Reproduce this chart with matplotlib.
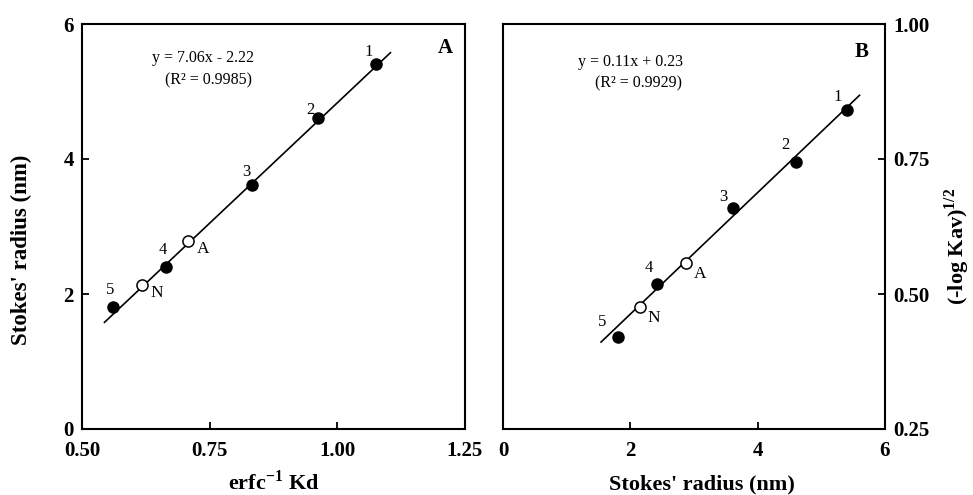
import matplotlib.pyplot as plt

plt.rcParams['font.family'] = ['Liberation Serif', 'DejaVu Serif']
plt.rcParams['mathtext.fontset'] = 'custom'
plt.rcParams['mathtext.rm'] = 'Liberation Serif'
plt.rcParams['mathtext.bf'] = 'Liberation Serif:bold'

# Panel A: Stokes' radius vs erfc^-1 Kd
a_labels = ['1', '2', '3', '4', '5']
a_x = [1.076, 0.962, 0.833, 0.664, 0.561]
a_y = [5.41, 4.61, 3.61, 2.40, 1.81]
a_open_labels = ['A', 'N']
a_open_x = [0.708, 0.617]
a_open_y = [2.79, 2.13]
a_fit_x = [0.544, 1.104]
a_fit_y = [1.58, 5.575]

# Panel B: (-log Kav)^1/2 vs Stokes' radius
b_labels = ['1', '2', '3', '4', '5']
b_x = [5.41, 4.60, 3.62, 2.42, 1.80]
b_y = [0.840, 0.745, 0.660, 0.518, 0.420]
b_open_labels = ['A', 'N']
b_open_x = [2.87, 2.15]
b_open_y = [0.558, 0.476]
b_fit_x = [1.54, 5.60]
b_fit_y = [0.411, 0.868]

fig = plt.figure(figsize=(9.73, 4.95), dpi=100)
axA = fig.add_axes([82 / 973, 66 / 495, 383 / 973, 405 / 495])
axB = fig.add_axes([503 / 973, 66 / 495, 382 / 973, 405 / 495])

px = 0.72  # points per pixel


def style(ax):
    for s in ax.spines.values():
        s.set_linewidth(1.5)
    ax.tick_params(direction='in', length=5, width=1.3, labelsize=15)
    ax.tick_params(axis='x', pad=9)
    ax.tick_params(axis='y', pad=6)
    for t in ax.get_xticklabels() + ax.get_yticklabels():
        t.set_fontweight('bold')


# ---- panel A
axA.plot(a_fit_x, a_fit_y, color='black', lw=1.2)
axA.plot(a_x, a_y, 'o', color='black', ms=8)
axA.plot(a_open_x, a_open_y, 'o', mfc='white', mec='black', mew=1.1, ms=8)
offA = [(-7, 12), (-8, 8), (-6, 13), (-3, 17), (-3, 17)]
for lab, x, y, (dx, dy) in zip(a_labels, a_x, a_y, offA):
    axA.annotate(lab, (x, y), xytext=(dx * px, dy * px), textcoords='offset points',
                 ha='center', va='center', fontsize=12)
for lab, x, y in zip(a_open_labels, a_open_x, a_open_y):
    axA.annotate(lab, (x, y), xytext=(15 * px, -8 * px), textcoords='offset points',
                 ha='center', va='center', fontsize=12.5)
axA.set_xlim(0.5, 1.25)
axA.set_ylim(0, 6)
axA.set_xticks([0.5, 0.75, 1.0, 1.25])
axA.set_xticklabels(['0.50', '0.75', '1.00', '1.25'])
axA.set_yticks([0, 2, 4, 6])
style(axA)
axA.set_xlabel(r'erfc$^{\mathbf{-1}}$ Kd', fontsize=16, fontweight='bold', labelpad=6)
axA.set_ylabel("Stokes' radius (nm)", fontsize=16.5, fontweight='bold')
axA.yaxis.set_label_coords(-0.13, 0.442)
axA.text(0.95, 0.94, 'A', transform=axA.transAxes, fontsize=15, fontweight='bold',
         ha='center', va='center')
axA.text(0.315, 0.915, 'y = 7.06x - 2.22', transform=axA.transAxes, fontsize=11.5,
         ha='center', va='center')
axA.text(0.33, 0.86, '(R² = 0.9985)', transform=axA.transAxes, fontsize=11.5,
         ha='center', va='center')

# ---- panel B
axB.plot(b_fit_x, b_fit_y, color='black', lw=1.2)
axB.plot(b_x, b_y, 'o', color='black', ms=8)
axB.plot(b_open_x, b_open_y, 'o', mfc='white', mec='black', mew=1.1, ms=8)
offB = [(-10, 13), (-10, 17), (-10, 11), (-8, 16), (-15, 15)]
for lab, x, y, (dx, dy) in zip(b_labels, b_x, b_y, offB):
    axB.annotate(lab, (x, y), xytext=(dx * px, dy * px), textcoords='offset points',
                 ha='center', va='center', fontsize=12)
for lab, x, y in zip(b_open_labels, b_open_x, b_open_y):
    axB.annotate(lab, (x, y), xytext=(14 * px, -11 * px), textcoords='offset points',
                 ha='center', va='center', fontsize=12.5)
axB.set_xlim(0, 6)
axB.set_ylim(0.25, 1.0)
axB.set_xticks([0, 2, 4, 6])
axB.set_yticks([0.25, 0.5, 0.75, 1.0])
axB.set_yticklabels(['0.25', '0.50', '0.75', '1.00'])
axB.yaxis.tick_right()
axB.yaxis.set_label_position('right')
style(axB)
axB.set_xlabel("Stokes' radius (nm)", fontsize=16, fontweight='bold')
axB.xaxis.set_label_coords(0.52, -0.112)
axB.set_ylabel(r'(-log Kav)$^{\mathbf{1/2}}$', fontsize=16, fontweight='bold',
               rotation=90)
axB.yaxis.set_label_coords(1.15, 0.45)
axB.text(0.94, 0.93, 'B', transform=axB.transAxes, fontsize=15, fontweight='bold',
         ha='center', va='center')
axB.text(0.335, 0.905, 'y = 0.11x + 0.23', transform=axB.transAxes, fontsize=11.5,
         ha='center', va='center')
axB.text(0.355, 0.853, '(R² = 0.9929)', transform=axB.transAxes, fontsize=11.5,
         ha='center', va='center')

fig.savefig('out.png', dpi=100)
